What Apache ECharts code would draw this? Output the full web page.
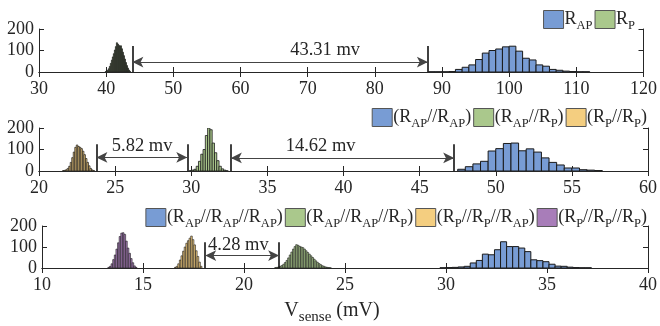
<!DOCTYPE html>
<html>
<head>
<meta charset="utf-8">
<script src="https://cdn.jsdelivr.net/npm/echarts@6/dist/echarts.min.js"></script>
<style>
  html, body { margin: 0; padding: 0; background: #fff; }
  #chart { width: 660px; height: 326px; }
</style>
</head>
<body>
<div id="chart"></div>
<script>
// ---- panel 1 : single junctions ----
const rapX = [88.5, 89.5, 90.5, 91.5, 92.5, 93.5, 94.5, 95.5, 96.5, 97.5, 98.5, 99.5, 100.5, 101.5, 102.5, 103.5, 104.5, 105.5, 106.5, 107.5, 108.5, 109.5, 110.5, 111.5];
const rapY = [1, 1, 1, 2, 12, 22, 33, 58, 88, 100, 107, 117, 120, 97, 64, 56, 33, 27, 12, 8, 4, 2, 1, 1];
const rpX = [39.95, 40.1, 40.25, 40.4, 40.55, 40.7, 40.85, 41.0, 41.15, 41.3, 41.45, 41.6, 41.75, 41.9, 42.05, 42.2, 42.35, 42.5, 42.65, 42.8, 42.95, 43.1, 43.25, 43.4, 43.55];
const rpY = [2, 4, 8, 15, 26, 40, 55, 70, 85, 102, 118, 136, 130, 124, 120, 122, 108, 92, 76, 60, 44, 30, 18, 9, 3];

// ---- panel 2 : two in parallel ----
const apapX = [47.75, 48.25, 48.75, 49.25, 49.75, 50.25, 50.75, 51.25, 51.75, 52.25, 52.75, 53.25, 53.75, 54.25, 54.75, 55.25, 55.75, 56.25, 56.75];
const apapY = [8, 20, 33, 45, 93, 104, 128, 130, 94, 103, 88, 61, 40, 28, 14, 14, 6, 4, 2];
const appX = [29.95, 30.1, 30.25, 30.4, 30.55, 30.7, 30.85, 31.0, 31.15, 31.3, 31.45, 31.6, 31.75, 31.9, 32.05, 32.2, 32.35];
const appY = [2, 4, 8, 22, 45, 78, 100, 165, 200, 192, 130, 85, 48, 22, 10, 4, 1];
const ppX = [21.6, 21.7, 21.8, 21.9, 22.0, 22.1, 22.2, 22.3, 22.4, 22.5, 22.6, 22.7, 22.8, 22.9, 23.0, 23.1, 23.2, 23.3, 23.4, 23.5, 23.6];
const ppY = [2, 3, 6, 12, 22, 40, 62, 88, 110, 121, 114, 110, 104, 92, 76, 58, 40, 24, 12, 5, 2];

// ---- panel 3 : three in parallel ----
const ap3X = [29.85, 30.15, 30.45, 30.75, 31.05, 31.35, 31.65, 31.95, 32.25, 32.55, 32.85, 33.15, 33.45, 33.75, 34.05, 34.35, 34.65, 34.95, 35.25, 35.55, 35.85, 36.15, 36.45, 36.75, 37.05];
const ap3Y = [1, 2, 3, 5, 8, 24, 36, 66, 63, 87, 125, 102, 102, 95, 78, 39, 35, 30, 18, 9, 8, 4, 2, 1, 1];
const apappX = [21.56, 21.64, 21.72, 21.8, 21.88, 21.96, 22.04, 22.12, 22.2, 22.28, 22.36, 22.44, 22.52, 22.6, 22.68, 22.76, 22.84, 22.92, 23.0, 23.08, 23.16, 23.24, 23.32, 23.4, 23.48, 23.56, 23.64, 23.72, 23.8, 23.88, 23.96, 24.04, 24.12, 24.2, 24.28];
const apappY = [2, 3, 5, 8, 12, 18, 26, 36, 48, 62, 76, 90, 102, 111, 108, 103, 100, 97, 90, 82, 74, 66, 58, 50, 42, 34, 27, 21, 16, 11, 8, 5, 3, 2, 1];
const ppapX = [16.6, 16.68, 16.76, 16.84, 16.92, 17.0, 17.08, 17.16, 17.24, 17.32, 17.4, 17.48, 17.56, 17.64, 17.72, 17.8, 17.88];
const ppapY = [3, 8, 20, 38, 58, 80, 100, 118, 130, 142, 152, 135, 110, 82, 55, 28, 8];
const p3X = [13.3, 13.38, 13.46, 13.54, 13.62, 13.7, 13.78, 13.86, 13.94, 14.02, 14.1, 14.18, 14.26, 14.34, 14.42, 14.5, 14.58, 14.66];
const p3Y = [3, 8, 20, 40, 62, 90, 120, 150, 166, 168, 160, 128, 95, 70, 45, 25, 10, 3];

// gap annotations: vertical markers, arrows [x1, x2, y], labels [x, y, text]
const gap1Lines = [43.9, 87.9];
const gap1Arrows = [[43.9, 87.9, 46]];
const gap1Labels = [[72.6, 102, '43.31 mv']];
const gap2Lines = [23.77, 29.74, 32.6, 47.27];
const gap2Arrows = [[23.77, 29.74, 63], [32.6, 47.27, 61]];
const gap2Labels = [[26.77, 116, '5.82 mv'], [38.5, 116, '14.62 mv']];
const gap3Lines = [18.08, 21.74];
const gap3Arrows = [[18.08, 21.74, 59]];
const gap3Labels = [[19.72, 108, '4.28 mv']];
const lineTop = [121, 125, 123];

const xRanges = [[30, 120, 10], [20, 60, 5], [10, 40, 5]];
const yTicks = [0, 100, 200];

const BLUE = '#789cd4', GREEN = '#aac88c', YELLOW = '#f4ce80', PURPLE = '#a87db9';
const FONT = 'Liberation Serif';
const INK = '#262626';

const grids = [
  { left: 39, right: 13, top: 29, height: 43 },
  { left: 39, right: 12, top: 128, height: 43 },
  { left: 42, right: 9, top: 226, height: 45 }
];

function zip(xs, ys) { return xs.map((x, i) => [x, ys[i]]); }

function histItem(bin, edge) {
  return function (params, api) {
    const x = api.value(0), y = api.value(1);
    const a = api.coord([x - bin / 2, y]);
    const b = api.coord([x + bin / 2, 0]);
    return {
      type: 'rect',
      shape: { x: a[0], y: a[1], width: b[0] - a[0], height: b[1] - a[1] },
      style: { fill: api.visual('color'), stroke: '#1a1a1a', lineWidth: edge }
    };
  };
}

function hist(name, xs, ys, bin, color, panel, edge) {
  return {
    name: name, type: 'custom', xAxisIndex: panel * 2, yAxisIndex: panel * 2,
    data: zip(xs, ys), renderItem: histItem(bin, edge), clip: true,
    itemStyle: { color: color }, silent: true
  };
}

function gapLines(panel, lines, arrows) {
  const data = [];
  lines.forEach(x => data.push([{ coord: [x, 0] }, { coord: [x, lineTop[panel]] }]));
  arrows.forEach(a => data.push([
    { coord: [a[0], a[2]], symbol: 'arrow', lineStyle: { color: '#444', width: 1 } },
    { coord: [a[1], a[2]], symbol: 'arrow' }
  ]));
  return {
    type: 'line', xAxisIndex: panel * 2, yAxisIndex: panel * 2, data: [],
    markLine: {
      silent: true, animation: false, symbol: 'none', symbolSize: [8, 11],
      label: { show: false },
      lineStyle: { color: '#111', width: 1.6, type: 'solid' },
      itemStyle: { color: '#111' },
      data: data
    }
  };
}

function gapText(panel, labels) {
  return {
    type: 'scatter', xAxisIndex: panel * 2, yAxisIndex: panel * 2,
    symbolSize: 0, silent: true,
    itemStyle: { opacity: 1 },
    data: labels,
    label: { show: true, position: 'inside', formatter: p => p.value[2],
      fontFamily: FONT, fontSize: 18.5, color: INK, opacity: 1 }
  };
}

const subText = s => s.replace(/_(AP|P)/g, '{s|$1}');
const richSub = {
  s: { fontFamily: FONT, fontSize: 12.5, color: INK, padding: [12, 0, 0, 0] }
};

function legend(names, top, right) {
  return {
    data: names, top: top, right: right, icon: 'rect',
    itemWidth: 20, itemHeight: 18, itemGap: 2, selectedMode: false,
    itemStyle: { borderColor: '#555', borderWidth: 1 },
    formatter: subText,
    textStyle: { fontFamily: FONT, fontSize: 18, color: INK, rich: richSub,
      padding: [0, 0, 0, -4] }
  };
}

const xAxes = [], yAxes = [];
xRanges.forEach((r, i) => {
  const base = {
    type: 'value', gridIndex: i, min: r[0], max: r[1], interval: r[2],
    splitLine: { show: false },
    axisLine: { lineStyle: { color: INK, width: 1 } },
    axisTick: { inside: true, length: 5, lineStyle: { color: INK } }
  };
  xAxes.push(Object.assign({}, base, {
    position: 'bottom',
    axisLabel: { fontFamily: FONT, fontSize: 18, color: INK, margin: 8 }
  }));
  xAxes.push(Object.assign({}, base, { position: 'top', axisLabel: { show: false } }));
  const ybase = {
    type: 'value', gridIndex: i, min: yTicks[0], max: yTicks[2], interval: yTicks[1] - yTicks[0],
    splitLine: { show: false },
    axisLine: { show: true, lineStyle: { color: INK, width: 1 } },
    axisTick: { show: true, inside: true, length: 5, lineStyle: { color: INK } }
  };
  yAxes.push(Object.assign({}, ybase, {
    position: 'left',
    axisLabel: { fontFamily: FONT, fontSize: 18, color: INK, margin: 5 }
  }));
  yAxes.push(Object.assign({}, ybase, { position: 'right', axisLabel: { show: false } }));
});
xAxes[4].name = 'V{s|sense} (mV){w|}';
xAxes[4].nameLocation = 'middle';
xAxes[4].nameGap = 28;
xAxes[4].nameTextStyle = { fontFamily: FONT, fontSize: 20, color: INK,
  rich: {
    s: { fontFamily: FONT, fontSize: 15, color: INK, padding: [14, 0, 0, 0] },
    w: { width: 26 }
  } };

const chart = echarts.init(document.getElementById('chart'));
chart.setOption({
  animation: false,
  backgroundColor: '#fff',
  grid: grids,
  legend: [
    legend(['R_AP', 'R_P'], 5, 20),
    legend(['(R_AP//R_AP)', '(R_AP//R_P)', '(R_P//R_P)'], 103, 8),
    legend(['(R_AP//R_AP//R_AP)', '(R_AP//R_AP//R_P)', '(R_P//R_P//R_AP)', '(R_P//R_P//R_P)'], 203, 8)
  ],
  xAxis: xAxes,
  yAxis: yAxes,
  series: [
    hist('R_AP', rapX, rapY, 1, BLUE, 0, 1),
    hist('R_P', rpX, rpY, 0.15, GREEN, 0, 0.8),
    hist('(R_AP//R_AP)', apapX, apapY, 0.5, BLUE, 1, 1),
    hist('(R_AP//R_P)', appX, appY, 0.15, GREEN, 1, 0.8),
    hist('(R_P//R_P)', ppX, ppY, 0.1, YELLOW, 1, 0.7),
    hist('(R_AP//R_AP//R_AP)', ap3X, ap3Y, 0.3, BLUE, 2, 1),
    hist('(R_AP//R_AP//R_P)', apappX, apappY, 0.08, GREEN, 2, 0.6),
    hist('(R_P//R_P//R_AP)', ppapX, ppapY, 0.08, YELLOW, 2, 0.6),
    hist('(R_P//R_P//R_P)', p3X, p3Y, 0.08, PURPLE, 2, 0.6),
    gapLines(0, gap1Lines, gap1Arrows),
    gapLines(1, gap2Lines, gap2Arrows),
    gapLines(2, gap3Lines, gap3Arrows),
    gapText(0, gap1Labels),
    gapText(1, gap2Labels),
    gapText(2, gap3Labels)
  ]
});
</script>
</body>
</html>
